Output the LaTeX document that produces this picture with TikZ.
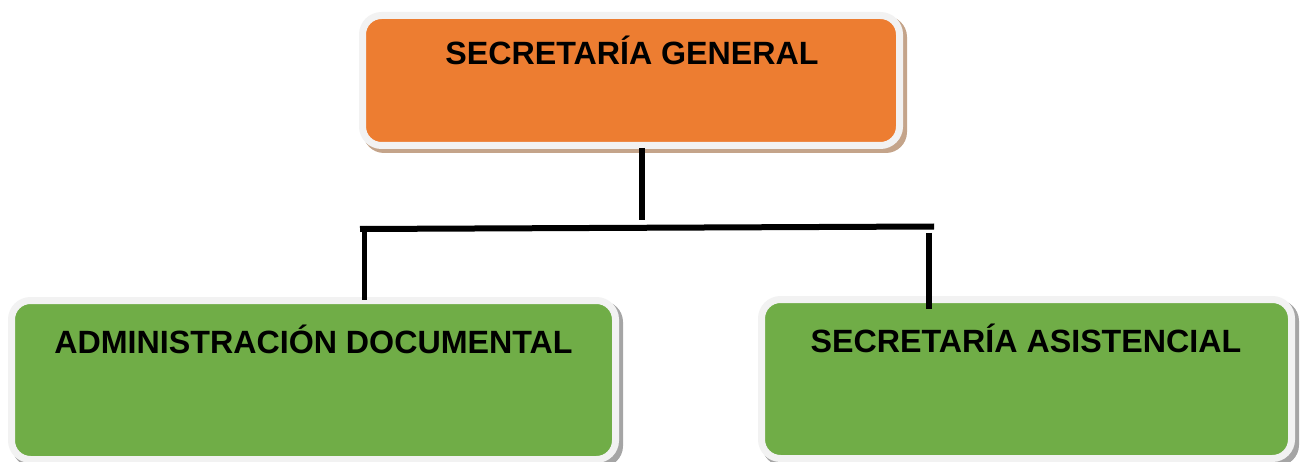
\documentclass[tikz,border=0pt]{standalone}
\usepackage{fontspec}
\setmainfont{Liberation Sans}
\usetikzlibrary{backgrounds}
\definecolor{orangefill}{HTML}{ED7D31}
\definecolor{greenfill}{HTML}{70AD47}
\definecolor{rimgray}{HTML}{F2F2F2}
\definecolor{tanshadow}{HTML}{C4A48A}
\definecolor{grayshadow}{HTML}{A5A5A5}
\tikzset{
  unitbox/.style={draw=rimgray, line width=7pt, rounded corners=19pt, inner sep=0pt},
  orangebox/.style={unitbox, fill=orangefill},
  greenbox/.style={unitbox, fill=greenfill},
  boxlabel/.style={anchor=base, inner sep=0pt, font=\fontsize{32.2}{36}\selectfont\bfseries},
  conn/.style={line width=5.5pt, line cap=butt, black},
}
\begin{document}
\begin{tikzpicture}[x=1pt, y=-1pt]
\useasboundingbox (0,0) rectangle (1303,462);
\clip (0,0) rectangle (1303,462);

% boxes
\node[orangebox, minimum width=537pt, minimum height=130pt] (sg) at (631,80.5) {};
\node[greenbox, minimum width=604pt, minimum height=159pt] (ad) at (313.5,380) {};
\node[greenbox, minimum width=530pt, minimum height=159pt] (sa) at (1026.5,379) {};

% shadows
\begin{scope}[on background layer]
  \fill[tanshadow, rounded corners=21pt] ([shift={(4,4)}]sg.north west) rectangle ([shift={(4,4)}]sg.south east);
  \fill[grayshadow, rounded corners=21pt] ([shift={(4,4)}]ad.north west) rectangle ([shift={(4,4)}]ad.south east);
  \fill[grayshadow, rounded corners=21pt] ([shift={(4,4)}]sa.north west) rectangle ([shift={(4,4)}]sa.south east);
\end{scope}

% labels
\node[boxlabel] (sgt) at (632,65) {SECRETARÍA GENERAL};
\node[boxlabel] (adt) at (313.5,353) {ADMINISTRACIÓN DOCUMENTAL};
\node[boxlabel] (sat) at (1026,352) {SECRETARÍA ASISTENCIAL};

% connectors
\coordinate (jt) at (642,220);
\coordinate (jl) at (360,229);
\coordinate (jr) at (934,226.5);
\coordinate (ml) at (364.5,226);
\coordinate (mr) at (929,233);
\draw[conn] ([shift={(0,-1)}]sg.south -| jt) -- (jt);
\draw[conn, line width=6pt] (jl) -- (jr);
\draw[conn] (ml) -- ([shift={(0,3)}]ml |- ad.north);
\draw[conn] (mr) -- ([shift={(0,13)}]mr |- sa.north);
\end{tikzpicture}
\end{document}
